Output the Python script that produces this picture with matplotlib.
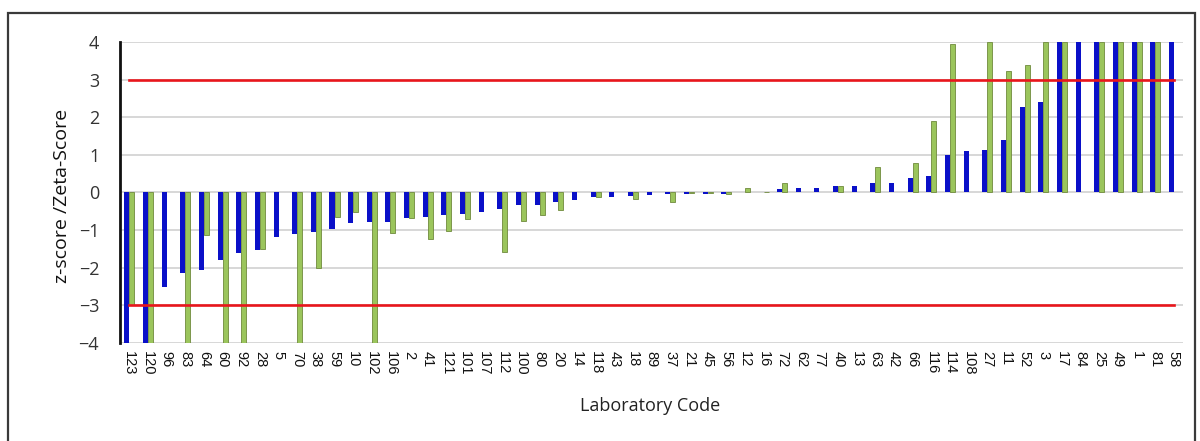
import numpy as np
import matplotlib
matplotlib.use('Agg')
import matplotlib.pyplot as plt
from matplotlib.patches import Rectangle

# laboratory codes, sorted by z-score
lab_codes = ['123', '120', '96', '83', '64', '60', '92', '28', '5', '70',
             '38', '59', '10', '102', '106', '2', '41', '121', '101', '107',
             '112', '100', '80', '20', '14', '118', '43', '18', '89', '37',
             '21', '45', '56', '12', '16', '72', '62', '77', '40', '13',
             '63', '42', '66', '116', '114', '108', '27', '11', '52', '3',
             '17', '84', '25', '49', '1', '81', '58']

# scores outside +/-4 are shown at the axis limit
z_scores = [-4.0, -4.0, -2.5, -2.15, -2.07, -1.78, -1.62, -1.52, -1.19, -1.09,
            -1.06, -0.98, -0.82, -0.79, -0.78, -0.68, -0.66, -0.61, -0.57, -0.53,
            -0.45, -0.32, -0.32, -0.26, -0.2, -0.12, -0.12, -0.1, -0.06, -0.04,
            -0.03, -0.03, -0.04, 0.01, 0.02, 0.08, 0.12, 0.12, 0.16, 0.16,
            0.25, 0.25, 0.38, 0.45, 1.0, 1.09, 1.13, 1.4, 2.27, 2.4,
            4.0, 4.0, 4.0, 4.0, 4.0, 4.0, 4.0]

zeta_scores = [-3.0, -4.0, np.nan, -4.0, -1.14, -4.0, -4.0, -1.5, np.nan, -4.0,
               -2.0, -0.66, -0.53, -4.0, -1.07, -0.68, -1.23, -1.01, -0.7, np.nan,
               -1.59, -0.76, -0.6, -0.46, np.nan, -0.12, np.nan, -0.17, np.nan, -0.26,
               -0.02, -0.02, -0.04, 0.12, 0.02, 0.26, np.nan, np.nan, 0.18, np.nan,
               0.69, np.nan, 0.78, 1.9, 3.94, np.nan, 4.0, 3.23, 3.39, 4.0,
               4.0, np.nan, 4.0, 4.0, 4.0, 4.0, np.nan]

limit = 3

x = np.arange(len(lab_codes))
w = 0.27

fig = plt.figure(figsize=(12, 4.41), dpi=100)
ax = fig.add_axes([0.1, 0.222, 0.886, 0.683])

ax.bar(x - w / 2, z_scores, width=w, color='#0a10c8', zorder=3)
ax.bar(x + w / 2, zeta_scores, width=w, color='#9bc55c', edgecolor='#6f8a3c',
       linewidth=0.6, zorder=3)

ax.plot(x, [limit] * len(x), color='#e8161c', lw=1.9, zorder=4)
ax.plot(x, [-limit] * len(x), color='#e8161c', lw=1.9, zorder=4)

ax.set_xlim(-0.5, len(x) - 0.5)
ax.set_ylim(-4, 4)
ax.set_yticks(range(-4, 5))
ax.yaxis.grid(True, color='#d4d4d4', lw=1.3, zorder=0)
ax.set_axisbelow(True)

for s in ['top', 'right', 'bottom']:
    ax.spines[s].set_visible(False)
ax.spines['left'].set_linewidth(2)
ax.spines['left'].set_color('#111111')

ax.tick_params(axis='y', length=0, pad=15, labelsize=13, labelcolor='#333333')
ax.tick_params(axis='x', length=0, pad=6)
for t in ax.get_yticklabels():
    t.set_family('Open Sans')

ax.set_xticks(x)
ax.set_xticklabels(lab_codes, rotation=270, ha='center', va='top',
                   fontsize=10.5, family='Liberation Sans', color='#111111')

fig.text(62 / 1200, 1 - 196 / 441, 'z-score /Zeta-Score', rotation=90,
         ha='center', va='center', fontsize=14, family='Open Sans', color='#111111')
fig.text(650 / 1200, 1 - 406 / 441, 'Laboratory Code', ha='center', va='center',
         fontsize=13, family='Open Sans', color='#222222')

# frame around the chart area
fig.patches.append(Rectangle((8 / 1200, -0.05), 1187 / 1200, 1 - 13 / 441 + 0.05,
                             transform=fig.transFigure, fill=False,
                             edgecolor='#3a3a3a', lw=1.6))

fig.savefig('out.png', dpi=100)
